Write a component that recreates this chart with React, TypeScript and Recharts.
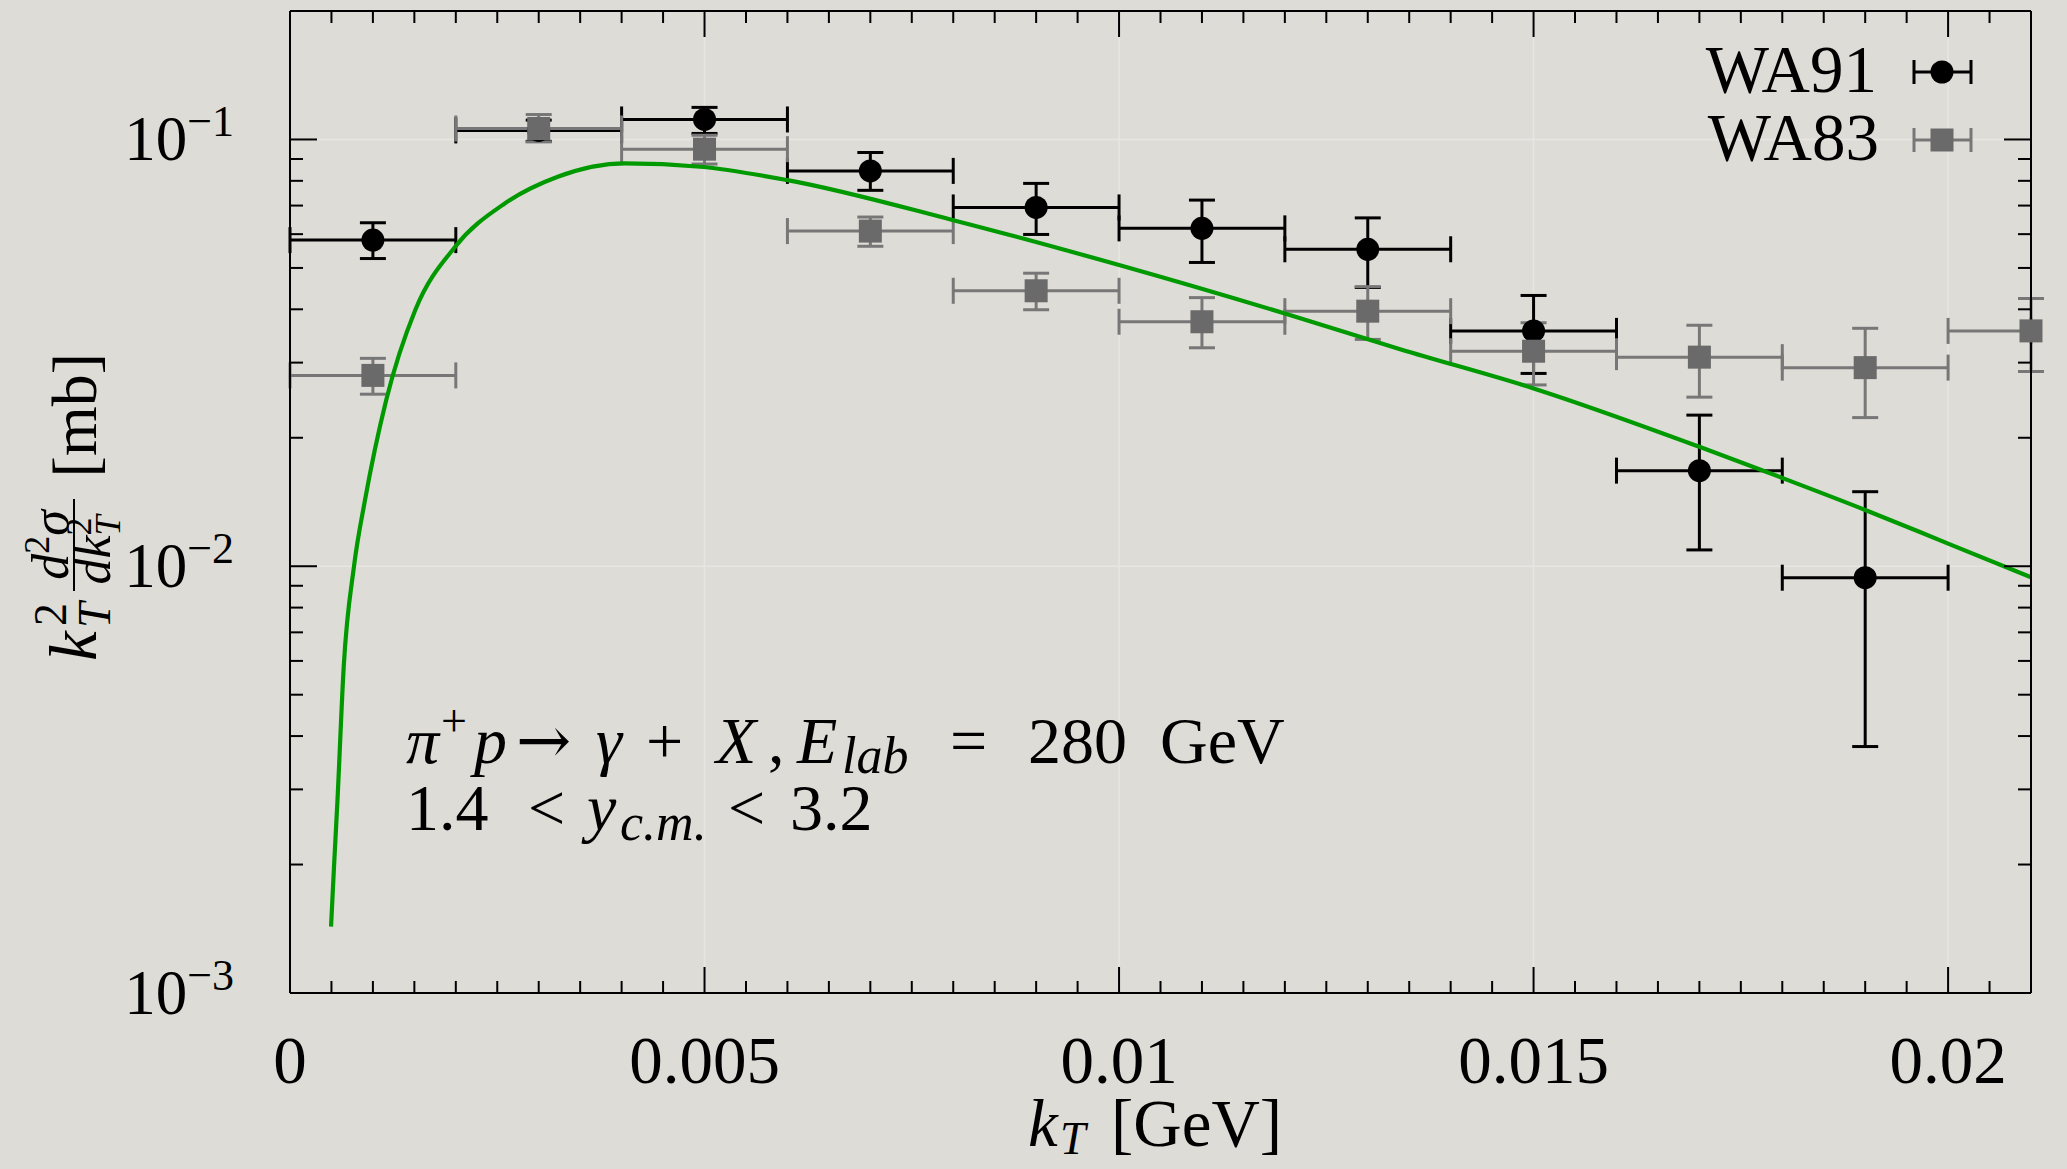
import React from "react";
import {
  ComposedChart,
  Line,
  Scatter,
  XAxis,
  YAxis,
  ErrorBar,
  Legend,
  ReferenceLine,
} from "recharts";

const FONT = '"Liberation Serif", "DejaVu Serif", serif';
const BG = "#dedcd7";
const GREY = "#6a6a6a";
const GREY_BAR = "#777777";
const FS = 66;
const FS_SMALL = 46;

// WA91 data (black circles), kT bin centres in GeV, value in mb
const wa91X = [0.001, 0.003, 0.005, 0.007, 0.009, 0.011, 0.013, 0.015, 0.017, 0.019];
const wa91Y = [0.0581, 0.105, 0.1114, 0.0844, 0.0693, 0.0619, 0.0553, 0.0356, 0.01675, 0.0094];
const wa91Hi = [0.0638, 0.111, 0.1189, 0.0932, 0.0789, 0.0721, 0.0655, 0.0431, 0.0226, 0.01495];
const wa91Lo = [0.0526, 0.099, 0.1033, 0.076, 0.0599, 0.0515, 0.045, 0.0283, 0.01092, 0.00378];

// WA83 data (grey squares)
const wa83X = [0.001, 0.003, 0.005, 0.007, 0.009, 0.011, 0.013, 0.015, 0.017, 0.019, 0.021];
const wa83Y = [0.028, 0.1061, 0.0949, 0.061, 0.0442, 0.0374, 0.0396, 0.0319, 0.0309, 0.0292, 0.0356];
const wa83Hi = [0.0307, 0.1144, 0.1023, 0.0658, 0.0486, 0.0426, 0.0452, 0.0372, 0.0367, 0.0361, 0.0424];
const wa83Lo = [0.0253, 0.0987, 0.0876, 0.0562, 0.0399, 0.0325, 0.034, 0.0266, 0.0249, 0.0223, 0.0286];

// theory curve (green)
const curveX = [
  0.000495, 0.000531, 0.000573, 0.000648, 0.000772, 0.000905, 0.00116, 0.00151, 0.00199,
  0.00259, 0.00323, 0.00404, 0.00495, 0.006, 0.008, 0.01, 0.012, 0.0134, 0.015, 0.017,
  0.018, 0.019, 0.02, 0.021,
];
const curveY = [
  0.00143, 0.00198, 0.00284, 0.00582, 0.01, 0.0143, 0.0245, 0.0398, 0.056, 0.0708, 0.0818,
  0.0879, 0.0863, 0.0803, 0.0647, 0.0508, 0.0391, 0.0322, 0.0261, 0.01905, 0.0161, 0.01355,
  0.0113, 0.00942,
];

const X_MAX = 0.021;
const HALF_BIN = 0.001;

const xMajor = [0, 0.005, 0.01, 0.015, 0.02];
const xMajorLabels = ["0", "0.005", "0.01", "0.015", "0.02"];
const xTicks = Array.from({ length: 43 }, (_, i) => i / 2000);

const yMajor = [0.001, 0.01, 0.1];
const yMajorExp = ["\u22123", "\u22122", "\u22121"];
const yTicks = [0.001, 0.01, 0.1]
  .flatMap((d) => [1, 2, 3, 4, 5, 6, 7, 8, 9].map((m) => +(d * m).toPrecision(3)))
  .filter((v) => v <= 0.2);

const wa91 = wa91X.map((x, i) => ({
  x,
  y: wa91Y[i],
  ex: [HALF_BIN, Math.min(HALF_BIN, X_MAX - x)],
  ey: [wa91Y[i] - wa91Lo[i], wa91Hi[i] - wa91Y[i]],
}));
const wa83 = wa83X.map((x, i) => ({
  x,
  y: wa83Y[i],
  ex: [HALF_BIN, Math.max(0, Math.min(HALF_BIN, X_MAX - x))],
  ey: [wa83Y[i] - wa83Lo[i], wa83Hi[i] - wa83Y[i]],
}));
const curve = curveX.map((x, i) => ({ x, y: curveY[i] }));

const isMajor = (list: number[], v: number) => list.findIndex((m) => Math.abs(m - v) < 1e-9);

const BottomTick = (props: any) => {
  const { x, y, payload } = props;
  const k = isMajor(xMajor, payload.value);
  return (
    <g>
      <line x1={x} y1={y} x2={x} y2={y - (k >= 0 ? 26 : 12)} stroke="#000" strokeWidth={2} />
      {k >= 0 && (
        <text x={x} y={y + 90} textAnchor="middle" fontFamily={FONT} fontSize={67} fill="#000">
          {xMajorLabels[k]}
        </text>
      )}
    </g>
  );
};

const TopTick = (props: any) => {
  const { x, y, payload } = props;
  const k = isMajor(xMajor, payload.value);
  return <line x1={x} y1={y} x2={x} y2={y + (k >= 0 ? 26 : 12)} stroke="#000" strokeWidth={2} />;
};

const LeftTick = (props: any) => {
  const { x, y, payload } = props;
  const k = isMajor(yMajor, payload.value);
  return (
    <g>
      <line x1={x} y1={y} x2={x + (k >= 0 ? 27 : 13)} y2={y} stroke="#000" strokeWidth={2} />
      {k >= 0 && (
        <text x={x - 56} y={y + 21} textAnchor="end" fontFamily={FONT} fontSize={63} fill="#000">
          10
          <tspan fontSize={44} dy={-24}>
            {yMajorExp[k]}
          </tspan>
        </text>
      )}
    </g>
  );
};

const RightTick = (props: any) => {
  const { x, y, payload } = props;
  const k = isMajor(yMajor, payload.value);
  return <line x1={x} y1={y} x2={x - (k >= 0 ? 27 : 13)} y2={y} stroke="#000" strokeWidth={2} />;
};

const LegendBox = () => (
  <svg width={340} height={160} style={{ overflow: "visible" }}>
    <text x={197} y={72} textAnchor="end" fontFamily={FONT} fontSize={67} fill="#000">
      WA91
    </text>
    <text x={199} y={140} textAnchor="end" fontFamily={FONT} fontSize={67} fill="#000">
      WA83
    </text>
    <g stroke="#000" strokeWidth={3}>
      <line x1={234} y1={52} x2={291} y2={52} />
      <line x1={234} y1={40} x2={234} y2={64} />
      <line x1={291} y1={40} x2={291} y2={64} />
    </g>
    <circle cx={262} cy={52} r={11.5} fill="#000" />
    <g stroke={GREY_BAR} strokeWidth={3}>
      <line x1={234} y1={120} x2={291} y2={120} />
      <line x1={234} y1={108} x2={234} y2={132} />
      <line x1={291} y1={108} x2={291} y2={132} />
    </g>
    <rect x={250.5} y={108.5} width={23} height={23} fill={GREY} />
  </svg>
);

const Overlay = () => (
  <svg
    width={2067}
    height={1169}
    style={{ position: "absolute", left: 0, top: 0, pointerEvents: "none" }}
    fontFamily={FONT}
    fill="#000"
  >
    {/* x axis title */}
    <text y={1146} fontSize={67}>
      <tspan x={1028} fontStyle="italic">k</tspan>
      <tspan x={1060} fontStyle="italic" fontSize={FS_SMALL} dy={8}>
        T
      </tspan>
      <tspan x={1111} dy={-8}>
        [GeV]
      </tspan>
    </text>

    {/* y axis title */}
    <g transform="translate(96, 505) rotate(-90)">
      <text x={-156} y={0} fontSize={67} fontStyle="italic">
        k
      </text>
      <text x={-121} y={-30} fontSize={FS_SMALL}>
        2
      </text>
      <text x={-123} y={14} fontSize={FS_SMALL} fontStyle="italic">
        T
      </text>
      <line x1={-86} y1={-22} x2={6} y2={-22} stroke="#000" strokeWidth={2} />
      <text x={-40} y={-28} fontSize={52} textAnchor="middle">
        <tspan fontStyle="italic">d</tspan>
        <tspan fontSize={36} dy={-19}>
          2
        </tspan>
        <tspan fontStyle="italic" dy={19}>
          {"\u03C3"}
        </tspan>
      </text>
      <text x={-45} y={14} fontSize={52} textAnchor="middle">
        <tspan fontStyle="italic">dk</tspan>
        <tspan fontSize={36} dy={-19}>
          2
        </tspan>
        <tspan fontSize={36} fontStyle="italic" dx={-18} dy={29}>
          T
        </tspan>
      </text>
      <text x={152} y={0} fontSize={64} textAnchor="end">
        [mb]
      </text>
    </g>

    {/* process annotation */}
    <text y={763} fontSize={FS}>
      <tspan x={406} fontStyle="italic">{"\u03C0"}</tspan>
      <tspan x={441} fontSize={FS_SMALL} dy={-27}>
        +
      </tspan>
      <tspan x={474} fontStyle="italic" dy={27}>
        p
      </tspan>
      <tspan x={516} fontFamily='"DejaVu Serif", serif'>{"\u2192"}</tspan>
      <tspan x={596} fontStyle="italic">{"\u03B3"}</tspan>
      <tspan x={646}>+</tspan>
      <tspan x={716} fontStyle="italic">X</tspan>
      <tspan x={768}>,</tspan>
      <tspan x={797} fontStyle="italic">E</tspan>
      <tspan x={842} fontStyle="italic" fontSize={52} dy={10}>
        lab
      </tspan>
      <tspan x={950} dy={-10}>
        =
      </tspan>
      <tspan x={1028}>280</tspan>
      <tspan x={1160}>GeV</tspan>
    </text>
    <text y={830} fontSize={FS}>
      <tspan x={406}>1.4</tspan>
      <tspan x={528}>{"<"}</tspan>
      <tspan x={587} fontStyle="italic">y</tspan>
      <tspan x={620} fontStyle="italic" fontSize={52} dy={10}>
        c.m.
      </tspan>
      <tspan x={728} dy={-10}>
        {"<"}
      </tspan>
      <tspan x={790}>3.2</tspan>
    </text>
  </svg>
);

export default function App() {
  return (
    <div style={{ position: "absolute", left: 0, top: 0, width: 2067, height: 1169, background: BG }}>
      <ComposedChart width={2067} height={1169} margin={{ top: 0, right: 0, bottom: 0, left: 0 }}>
        <XAxis
          dataKey="x"
          type="number"
          domain={[0, X_MAX]}
          ticks={xTicks}
          interval={0}
          height={176}
          tickSize={0}
          tickMargin={0}
          tickLine={false}
          tick={<BottomTick />}
          axisLine={{ stroke: "#000", strokeWidth: 2 }}
        />
        <XAxis
          xAxisId="top"
          dataKey="x"
          type="number"
          orientation="top"
          domain={[0, X_MAX]}
          allowDataOverflow
          ticks={xTicks}
          interval={0}
          height={11}
          tickSize={0}
          tickMargin={0}
          tickLine={false}
          tick={<TopTick />}
          axisLine={{ stroke: "#000", strokeWidth: 2 }}
        />
        <YAxis
          dataKey="y"
          type="number"
          scale="log"
          domain={[0.001, 0.2]}
          ticks={yTicks}
          interval={0}
          width={290}
          tickSize={0}
          tickMargin={0}
          tickLine={false}
          tick={<LeftTick />}
          axisLine={{ stroke: "#000", strokeWidth: 2 }}
        />
        <YAxis
          yAxisId="right"
          dataKey="y"
          type="number"
          orientation="right"
          scale="log"
          domain={[0.001, 0.2]}
          allowDataOverflow
          ticks={yTicks}
          interval={0}
          width={36}
          tickSize={0}
          tickMargin={0}
          tickLine={false}
          tick={<RightTick />}
          axisLine={{ stroke: "#000", strokeWidth: 2 }}
        />
        {xMajor.slice(1).map((v) => (
          <ReferenceLine key={"vx" + v} x={v} stroke="#e7e6e2" strokeWidth={1.5} />
        ))}
        {[0.01, 0.1].map((v) => (
          <ReferenceLine key={"hy" + v} y={v} stroke="#e7e6e2" strokeWidth={1.5} />
        ))}
        <Scatter
          name="WA91"
          data={wa91}
          isAnimationActive={false}
          shape={(p: any) => <circle cx={p.cx} cy={p.cy} r={11.5} fill="#000" />}
        >
          <ErrorBar dataKey="ex" direction="x" width={13} stroke="#000" strokeWidth={3} isAnimationActive={false} />
          <ErrorBar dataKey="ey" direction="y" width={13} stroke="#000" strokeWidth={3} isAnimationActive={false} />
        </Scatter>
        <Scatter
          name="WA83"
          data={wa83}
          isAnimationActive={false}
          shape={(p: any) => <rect x={p.cx - 11.5} y={p.cy - 11.5} width={23} height={23} fill={GREY} />}
        >
          <ErrorBar dataKey="ex" direction="x" width={13} stroke={GREY_BAR} strokeWidth={3} isAnimationActive={false} />
          <ErrorBar dataKey="ey" direction="y" width={13} stroke={GREY_BAR} strokeWidth={3} isAnimationActive={false} />
        </Scatter>
        <Line
          data={curve}
          dataKey="y"
          type="monotone"
          stroke="#009a00"
          strokeWidth={4.2}
          dot={false}
          activeDot={false}
          isAnimationActive={false}
          legendType="none"
        />
        <Legend
          layout="vertical"
          align="center"
          verticalAlign="middle"
          width={340}
          height={160}
          wrapperStyle={{ left: 1680, top: 20, width: 340, height: 160 }}
          content={() => <LegendBox />}
        />
      </ComposedChart>
      <Overlay />
    </div>
  );
}
